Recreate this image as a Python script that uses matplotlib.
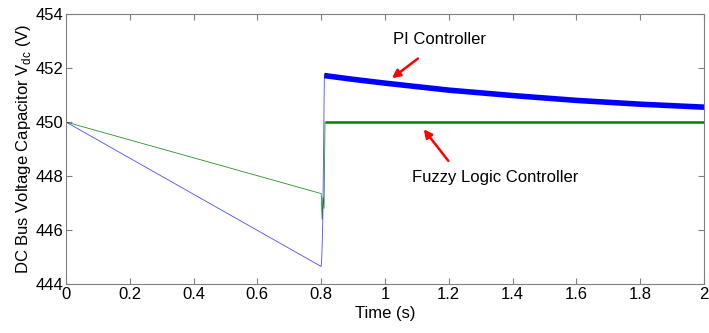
import matplotlib
matplotlib.use("Agg")
import matplotlib.pyplot as plt

plt.rcParams["font.family"] = ["Liberation Sans", "DejaVu Sans"]

# ── Data ──────────────────────────────────────────────────────────────────────

# PI controller: thin ramp before the step, thick rippled band after
pi_ramp_t = [0.0, 0.8, 0.802, 0.805, 0.808, 0.81]
pi_ramp_v = [450.0, 444.65, 445.0, 446.3, 449.5, 451.78]
pi_t = [0.81, 0.9, 1.0, 1.2, 1.4, 1.6, 1.8, 2.0]
pi_v = [451.72, 451.58, 451.44, 451.18, 450.98, 450.80, 450.66, 450.55]

# Fuzzy logic controller
fz_ramp_t = [0.0, 0.8, 0.803, 0.806, 0.809, 0.812]
fz_ramp_v = [450.0, 447.35, 446.4, 447.2, 446.8, 450.0]
fz_t = [0.812, 1.0, 1.5, 2.0]
fz_v = [450.0, 450.0, 450.0, 450.0]

x_ticks = [0, 0.2, 0.4, 0.6, 0.8, 1, 1.2, 1.4, 1.6, 1.8, 2]
x_tick_labels = ["0", "0.2", "0.4", "0.6", "0.8", "1", "1.2", "1.4", "1.6", "1.8", "2"]
y_ticks = [444, 446, 448, 450, 452, 454]

# ── Plot ──────────────────────────────────────────────────────────────────────

fig = plt.figure(figsize=(7.09, 3.33), dpi=100)
ax = fig.add_axes([0.093, 0.147, 0.900, 0.811])

ax.plot(fz_ramp_t, fz_ramp_v, color="#008000", lw=0.6, alpha=0.85)
ax.plot(pi_ramp_t, pi_ramp_v, color="#0000ff", lw=0.6, alpha=0.7)
ax.plot(pi_t, pi_v, color="#0000ff", lw=4.0, solid_capstyle="butt")
ax.plot(fz_t, fz_v, color="#008000", lw=1.8, solid_capstyle="butt")

ax.set_xlim(0, 2)
ax.set_ylim(444, 454)
ax.set_xticks(x_ticks)
ax.set_xticklabels(x_tick_labels)
ax.set_yticks(y_ticks)
ax.tick_params(direction="in", top=True, right=True, length=4,
               color="#808080", labelsize=12, pad=2)
for s in ax.spines.values():
    s.set_color("#808080")

ax.set_xlabel("Time (s)", fontsize=12, labelpad=3)
ax.set_ylabel("DC Bus Voltage Capacitor V$_{\\mathregular{dc}}$ (V)", fontsize=12, labelpad=2)

arrow = dict(arrowstyle="-|>", color="red", lw=1.8, mutation_scale=12)
ax.annotate("", xy=(1.015, 451.56), xytext=(1.11, 452.41), arrowprops=arrow)
ax.text(1.17, 453.04, "PI Controller", ha="center", va="center", fontsize=12)
ax.annotate("", xy=(1.116, 449.81), xytext=(1.204, 448.48), arrowprops=arrow)
ax.text(1.345, 447.93, "Fuzzy Logic Controller", ha="center", va="center", fontsize=12)

fig.savefig("out.png", dpi=100)
